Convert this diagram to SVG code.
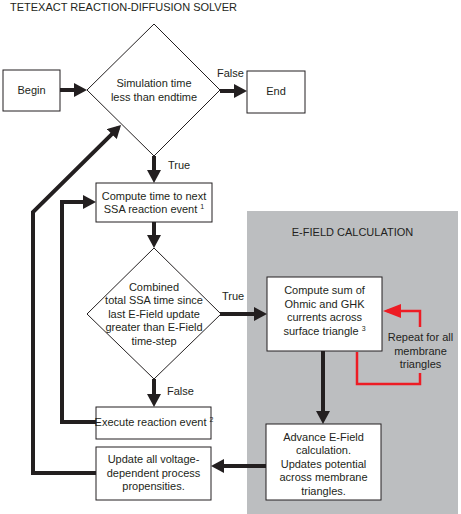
<svg xmlns="http://www.w3.org/2000/svg" width="461" height="514" viewBox="0 0 461 514">
<style>
text{font-family:"Liberation Sans",Arial,sans-serif;font-size:11px;fill:#231f20}
.c{text-anchor:middle}
.box{fill:#fff;stroke:#231f20;stroke-width:1}
.arr{fill:none;stroke:#231f20;stroke-width:4;stroke-linejoin:miter}
.red{fill:none;stroke:#ed1c24;stroke-width:2.5}
.sup{font-size:7px}
</style>
<defs>
<marker id="ah" markerUnits="userSpaceOnUse" markerWidth="14" markerHeight="14" refX="9" refY="7" orient="auto">
<path d="M0,0 L13,7 L0,14 z" fill="#231f20"/>
</marker>
<marker id="rh" markerUnits="userSpaceOnUse" markerWidth="19" markerHeight="14" refX="14" refY="7" orient="auto">
<path d="M0,0 L18,7 L0,14 z" fill="#ed1c24"/>
</marker>
</defs>
<rect x="247" y="211" width="211" height="303" fill="#bcbec0"/>
<text x="10" y="11">TETEXACT REACTION-DIFFUSION SOLVER</text>
<text class="c" x="352.5" y="236">E-FIELD CALCULATION</text>

<g id="connectors">
<path class="arr" d="M60,90 H83" marker-end="url(#ah)"/>
<path class="arr" d="M220,91 H243" marker-end="url(#ah)"/>
<path class="arr" d="M154,156 V179" marker-end="url(#ah)"/>
<path class="arr" d="M154,222 V244" marker-end="url(#ah)"/>
<path class="arr" d="M154,379 V403" marker-end="url(#ah)"/>
<path class="arr" d="M220,314 H263" marker-end="url(#ah)"/>
<path class="arr" d="M323,351 V420" marker-end="url(#ah)"/>
<path class="arr" d="M266,466 H215" marker-end="url(#ah)"/>
<path class="arr" d="M96,422 H62 V202 H92" marker-end="url(#ah)"/>
<path class="arr" d="M96,473 H33 V212 L118.2,127.8" marker-end="url(#ah)"/>
<path class="red" d="M357,352 V384 H420 V373"/>
<path class="red" d="M420,327 V311 H387" marker-end="url(#rh)"/>
<text x="217" y="77">False</text>
<text x="168" y="169">True</text>
<text x="222" y="300">True</text>
<text x="167" y="395">False</text>
<text class="c" x="420.5" y="341">Repeat for all</text>
<text class="c" x="420.5" y="355">membrane</text>
<text class="c" x="420.5" y="368">triangles</text>
</g>

<g id="begin">
<rect class="box" x="3" y="70" width="57" height="41"/>
<text class="c" x="31.5" y="94">Begin</text>
</g>
<g id="end">
<rect class="box" x="247" y="71" width="58" height="42"/>
<text class="c" x="276" y="95">End</text>
</g>
<g id="decision-time">
<polygon class="box" points="154,24 220,90 154,156 87,90"/>
<text class="c" x="154" y="87">Simulation time</text>
<text class="c" x="154" y="101">less than endtime</text>
</g>
<g id="compute-time">
<rect class="box" x="96" y="183" width="116" height="39"/>
<text class="c" x="154" y="200">Compute time to next</text>
<text class="c" x="154" y="213">SSA reaction event <tspan class="sup" dy="-4">1</tspan></text>
</g>
<g id="decision-efield">
<polygon class="box" points="154,248 221,314 154,379 87,314"/>
<text class="c" x="154" y="291">Combined</text>
<text class="c" x="154" y="304">total SSA time since</text>
<text class="c" x="154" y="318">last E-Field update</text>
<text class="c" x="154" y="331">greater than E-Field</text>
<text class="c" x="154" y="345">time-step</text>
</g>
<g id="execute">
<rect class="box" x="96" y="407" width="115" height="32"/>
<text class="c" x="154" y="426">Execute reaction event <tspan class="sup" dy="-4">2</tspan></text>
</g>
<g id="update">
<rect class="box" x="96" y="447" width="115" height="53"/>
<text class="c" x="153.5" y="463">Update all voltage-</text>
<text class="c" x="153.5" y="477">dependent process</text>
<text class="c" x="153.5" y="490">propensities.</text>
</g>
<g id="compute-sum">
<rect class="box" x="267" y="277" width="115" height="74"/>
<text class="c" x="324.5" y="294">Compute sum of</text>
<text class="c" x="324.5" y="308">Ohmic and GHK</text>
<text class="c" x="324.5" y="321">currents across</text>
<text class="c" x="324.5" y="335">surface triangle <tspan class="sup" dy="-4">3</tspan></text>
</g>
<g id="advance">
<rect class="box" x="266" y="424" width="115" height="76"/>
<text class="c" x="323.5" y="441">Advance E-Field</text>
<text class="c" x="323.5" y="454">calculation.</text>
<text class="c" x="323.5" y="468">Updates potential</text>
<text class="c" x="323.5" y="481">across membrane</text>
<text class="c" x="323.5" y="495">triangles.</text>
</g>
</svg>
